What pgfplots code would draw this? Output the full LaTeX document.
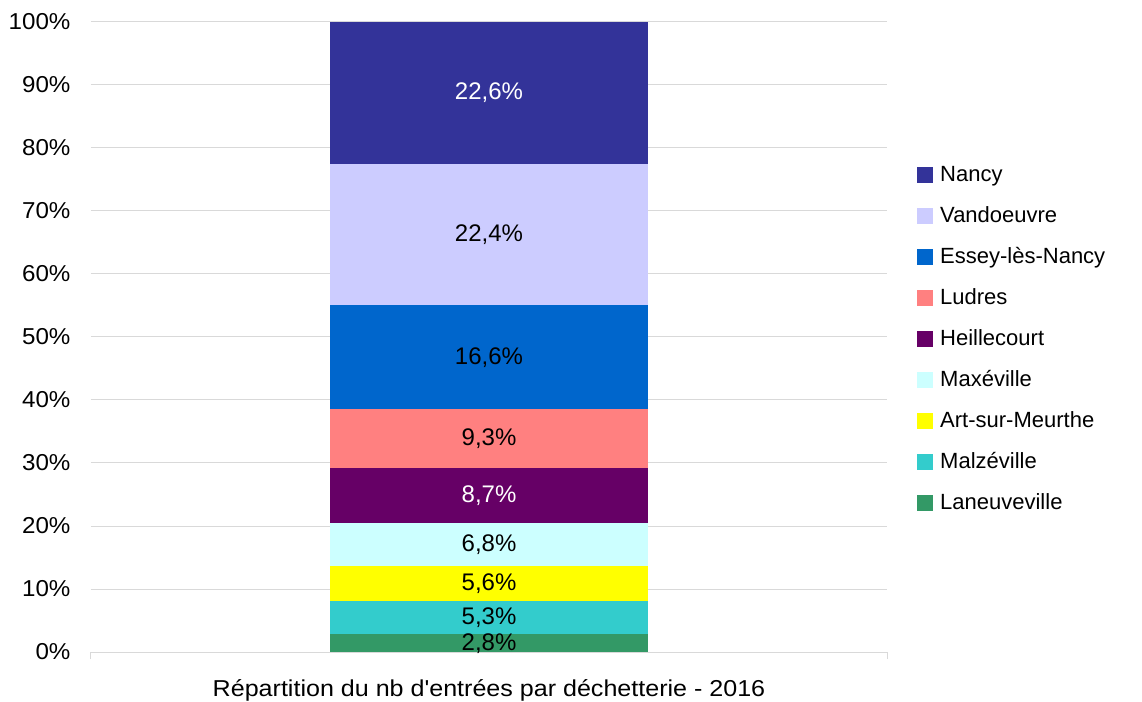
\documentclass[border=0pt]{standalone}
\usepackage{pgfplots}
\pgfplotsset{compat=1.18}
\usepackage{fontspec}
\setmainfont{Liberation Sans}
\definecolor{cNancy}{HTML}{333399}
\definecolor{cVand}{HTML}{CCCCFF}
\definecolor{cEssey}{HTML}{0066CC}
\definecolor{cLudres}{HTML}{FF8080}
\definecolor{cHeil}{HTML}{660066}
\definecolor{cMax}{HTML}{CCFFFF}
\definecolor{cArt}{HTML}{FFFF00}
\definecolor{cMalz}{HTML}{33CCCC}
\definecolor{cLan}{HTML}{339966}
\definecolor{gridc}{HTML}{D9D9D9}
\pgfplotsset{
  common/.style={
    at={(0pt,0pt)}, anchor=south west,
    scale only axis, width=796pt, height=630pt,
    xmin=-1, xmax=1, ymin=0, ymax=100,
  }
}
\begin{document}
\begin{tikzpicture}[font=\fontsize{22}{26}\selectfont]
\useasboundingbox (-91pt,-49pt) rectangle (1051pt,652pt);
\begin{axis}[
  common,
  ybar stacked, bar width=318pt,
  clip=false,
  axis x line*=bottom,
  axis y line*=left,
  x axis line style={draw=gridc, line width=1pt},
  y axis line style={draw=none},
  xtick={-1,1}, xticklabels={}, xtick align=outside,
  major tick length=7pt,
  x tick style={draw=gridc, line width=1pt},
  ytick={0,10,...,100},
  ymajorgrids, grid style={draw=gridc, line width=1pt},
  y tick style={draw=none},
  /pgf/number format/assume math mode=true,
  yticklabel={\scalebox{1.05}[1]{\pgfmathprintnumber{\tick}\%}},
  yticklabel style={font=\fontsize{23}{26}\selectfont, xshift=-17pt},
  xlabel={\scalebox{1.09}[1]{Répartition du nb d\textquotesingle entrées par déchetterie - 2016}},
  xlabel style={at={(0.5,0)}, anchor=center, yshift=-38pt, font=\fontsize{23}{26}\selectfont},
  legend style={draw=none, at={(1,0.495)}, anchor=west, xshift=27pt,
    row sep=22pt, column sep=0pt, nodes={inner sep=0pt, text height=15pt, text depth=4pt, anchor=west},
    font=\fontsize{22}{26}\selectfont,
    legend cell align=left},
  legend image code/.code={\fill[#1, draw=none] (0pt,-7pt) rectangle (16pt,9pt); \path (23pt,0pt);},
  reverse legend,
]
\addplot[fill=cLan, draw=none] coordinates {(0,2.8)};
\addlegendentry{Laneuveville}
\addplot[fill=cMalz, draw=none] coordinates {(0,5.3)};
\addlegendentry{Malzéville}
\addplot[fill=cArt, draw=none] coordinates {(0,5.6)};
\addlegendentry{Art-sur-Meurthe}
\addplot[fill=cMax, draw=none] coordinates {(0,6.8)};
\addlegendentry{Maxéville}
\addplot[fill=cHeil, draw=none] coordinates {(0,8.7)};
\addlegendentry{Heillecourt}
\addplot[fill=cLudres, draw=none] coordinates {(0,9.3)};
\addlegendentry{Ludres}
\addplot[fill=cEssey, draw=none] coordinates {(0,16.6)};
\addlegendentry{Essey-lès-Nancy}
\addplot[fill=cVand, draw=none] coordinates {(0,22.4)};
\addlegendentry{Vandoeuvre}
\addplot[fill=cNancy, draw=none] coordinates {(0,22.5)};
\addlegendentry{Nancy}
\end{axis}
\begin{axis}[
  common,
  axis lines=none,
  clip=false,
  point meta=explicit,
  nodes near coords={\pgfmathprintnumber[fixed,fixed zerofill,precision=1,use comma,assume math mode=true]{\pgfplotspointmeta}\%},
  every node near coord/.append style={anchor=center, inner sep=0pt, font=\fontsize{24}{26}\selectfont},
]
\addplot[only marks, mark=none, nodes near coords style={text=black}] coordinates {
  (0,1.4) [2.8]
  (0,5.45) [5.3]
  (0,10.9) [5.6]
  (0,17.1) [6.8]
  (0,33.85) [9.3]
  (0,46.8) [16.6]
  (0,66.3) [22.4]
};
\addplot[only marks, mark=none, nodes near coords style={text=white}] coordinates {
  (0,24.85) [8.7]
  (0,88.75) [22.6]
};
\end{axis}
\end{tikzpicture}
\end{document}
